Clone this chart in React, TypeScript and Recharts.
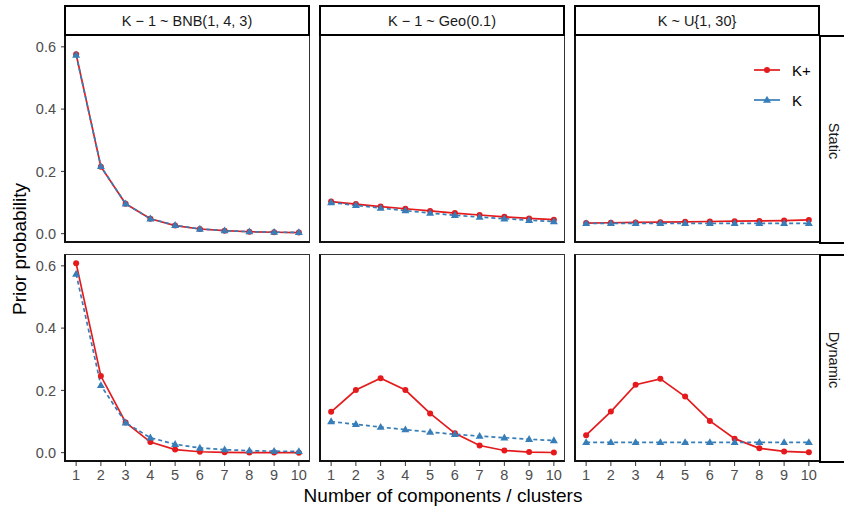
import React from "react";
import { LineChart, Line, XAxis, YAxis } from "recharts";

const components = [1, 2, 3, 4, 5, 6, 7, 8, 9, 10];
const priorLabels = ["K − 1 ~ BNB(1, 4, 3)", "K − 1 ~ Geo(0.1)", "K ~ U{1, 30}"];
const typeLabels = ["Static", "Dynamic"];
const yTicks = [0, 0.2, 0.4, 0.6];

// prior on K (same for both rows)
const bnbK = [0.574, 0.216, 0.096, 0.048, 0.027, 0.015, 0.0096, 0.0064, 0.0048, 0.004];
const geoK = [0.1, 0.091, 0.082, 0.074, 0.066, 0.059, 0.053, 0.048, 0.043, 0.039];
const unifK = [0.033, 0.033, 0.033, 0.033, 0.033, 0.033, 0.033, 0.033, 0.033, 0.033];

// implied prior on K+
const staticBnbKPlus = [0.576, 0.215, 0.096, 0.048, 0.026, 0.015, 0.0095, 0.0062, 0.0045, 0.0035];
const staticGeoKPlus = [0.103, 0.095, 0.087, 0.08, 0.073, 0.066, 0.06, 0.054, 0.049, 0.045];
const staticUnifKPlus = [0.034, 0.035, 0.036, 0.037, 0.038, 0.039, 0.04, 0.041, 0.042, 0.044];
const dynamicBnbKPlus = [0.608, 0.246, 0.097, 0.034, 0.01, 0.003, 0.001, 0.0004, 0.0002, 0.0001];
const dynamicGeoKPlus = [0.131, 0.201, 0.239, 0.201, 0.126, 0.062, 0.023, 0.007, 0.002, 0.0005];
const dynamicUnifKPlus = [0.056, 0.132, 0.218, 0.237, 0.18, 0.102, 0.045, 0.014, 0.004, 0.001];

const RED = "#E41A1C";
const BLUE = "#377EB8";
const FONT = "'Liberation Sans', Arial, Helvetica, sans-serif";
const TICK_FS = 14.5;
const TITLE_FS = 19;

const colX = [65, 320, 575];
const rowY = [35, 254];
const PW = 245;
const PH = 208;
const Y_AXIS_W = 65;
const X_AXIS_H = 30;

const Triangle = (props: any) => {
  const { cx, cy, index } = props;
  if (cx == null || cy == null) return <g key={index} />;
  return (
    <path
      key={index}
      d={`M${cx},${cy - 4.2} L${cx + 4},${cy + 2.7} L${cx - 4},${cy + 2.7} Z`}
      fill={BLUE}
    />
  );
};

const Dot = (props: any) => {
  const { cx, cy, index } = props;
  if (cx == null || cy == null) return <g key={index} />;
  return <circle key={index} cx={cx} cy={cy} r={3} fill={RED} />;
};

function Panel({ kPlus, k, col, row }: { kPlus: number[]; k: number[]; col: number; row: number }) {
  const data = components.map((c, i) => ({ x: c, kPlus: kPlus[i], k: k[i] }));
  const showY = col === 0;
  const showX = row === 1;
  const w = PW + (showY ? Y_AXIS_W : 0);
  const h = PH + (showX ? X_AXIS_H : 0);
  return (
    <div style={{ position: "absolute", left: colX[col] - (showY ? Y_AXIS_W : 0), top: rowY[row] }}>
      <LineChart width={w} height={h} data={data} margin={{ top: 0, right: 0, bottom: 0, left: 0 }}>
        <XAxis
          dataKey="x"
          type="number"
          domain={[0.55, 10.45]}
          ticks={components}
          hide={!showX}
          height={X_AXIS_H}
          axisLine={false}
          tickSize={4}
          tickMargin={4}
          tickLine={{ stroke: "#333333" }}
          tick={{ fill: "#4d4d4d", fontSize: TICK_FS, fontFamily: FONT }}
          interval={0}
        />
        <YAxis
          type="number"
          domain={[-0.03, 0.638]}
          ticks={yTicks}
          hide={!showY}
          width={Y_AXIS_W}
          axisLine={false}
          tickSize={4}
          tickMargin={5}
          tickLine={{ stroke: "#333333" }}
          tick={{ fill: "#4d4d4d", fontSize: TICK_FS, fontFamily: FONT }}
          tickFormatter={(v: number) => v.toFixed(1)}
        />
        <Line
          dataKey="kPlus"
          stroke={RED}
          strokeWidth={1.7}
          dot={Dot}
          activeDot={false}
          isAnimationActive={false}
        />
        <Line
          dataKey="k"
          stroke={BLUE}
          strokeWidth={1.7}
          strokeDasharray="4 3"
          dot={Triangle}
          activeDot={false}
          isAnimationActive={false}
        />
      </LineChart>
    </div>
  );
}

export default function App() {
  const kPlusRows = [
    [staticBnbKPlus, staticGeoKPlus, staticUnifKPlus],
    [dynamicBnbKPlus, dynamicGeoKPlus, dynamicUnifKPlus],
  ];
  const kCols = [bnbK, geoK, unifK];

  return (
    <div
      style={{
        position: "fixed",
        left: 0,
        top: 0,
        width: 844,
        height: 512,
        background: "#fff",
        overflow: "hidden",
        fontFamily: FONT,
      }}
    >
      {kPlusRows.map((rowData, r) =>
        rowData.map((kp, c) => <Panel key={`${r}-${c}`} kPlus={kp} k={kCols[c]} col={c} row={r} />)
      )}

      {/* panel borders */}
      {rowY.map((y, r) =>
        colX.map((x, c) => (
          <div
            key={`b-${r}-${c}`}
            style={{
              position: "absolute",
              left: x - 1,
              top: y,
              width: PW + 1,
              height: PH,
              boxSizing: "border-box",
              borderTop: "1px solid #333",
              borderRight: "1px solid #333",
              borderLeft: "2px solid #111",
              borderBottom: "2px solid #111",
              pointerEvents: "none",
            }}
          />
        ))
      )}

      {/* top strips */}
      {priorLabels.map((lab, c) => (
        <div
          key={lab}
          style={{
            position: "absolute",
            left: colX[c] - 1,
            top: 5,
            width: PW + 1,
            height: 31,
            boxSizing: "border-box",
            border: "2px solid #000",
            background: "#fff",
            display: "flex",
            alignItems: "center",
            justifyContent: "center",
            fontSize: TICK_FS,
            color: "#1a1a1a",
          }}
        >
          {lab}
        </div>
      ))}

      {/* right strips */}
      {typeLabels.map((lab, r) => (
        <div
          key={lab}
          style={{
            position: "absolute",
            left: 819,
            top: rowY[r],
            width: 30,
            height: PH + 1,
            boxSizing: "border-box",
            border: "2px solid #000",
            background: "#fff",
          }}
        >
          <div
            style={{
              position: "absolute",
              left: 13,
              top: PH / 2,
              transform: "translate(-50%, -50%) rotate(90deg)",
              fontSize: TICK_FS,
              color: "#1a1a1a",
              whiteSpace: "nowrap",
            }}
          >
            {lab}
          </div>
        </div>
      ))}

      {/* legend */}
      <div style={{ position: "absolute", left: 753, top: 60, fontSize: 15, color: "#000" }}>
        {[
          { label: "K+", color: RED, tri: false },
          { label: "K", color: BLUE, tri: true },
        ].map((it, i) => (
          <div key={it.label} style={{ display: "flex", alignItems: "center", height: 20, marginBottom: i === 0 ? 10 : 0 }}>
            <svg width={28} height={20}>
              <line x1={1} x2={27} y1={10} y2={10} stroke={it.color} strokeWidth={1.7} />
              {it.tri ? (
                <path d="M14,5.8 L18,12.7 L10,12.7 Z" fill={it.color} />
              ) : (
                <circle cx={14} cy={10} r={3} fill={it.color} />
              )}
            </svg>
            <span style={{ marginLeft: 11 }}>{it.label}</span>
          </div>
        ))}
      </div>

      {/* axis titles */}
      <div
        style={{
          position: "absolute",
          left: 443,
          top: 496,
          transform: "translate(-50%, -50%)",
          fontSize: TITLE_FS,
          color: "#000",
          whiteSpace: "nowrap",
        }}
      >
        Number of components / clusters
      </div>
      <div
        style={{
          position: "absolute",
          left: 20,
          top: 249,
          transform: "translate(-50%, -50%) rotate(-90deg)",
          fontSize: TITLE_FS,
          color: "#000",
          whiteSpace: "nowrap",
        }}
      >
        Prior probability
      </div>
    </div>
  );
}
